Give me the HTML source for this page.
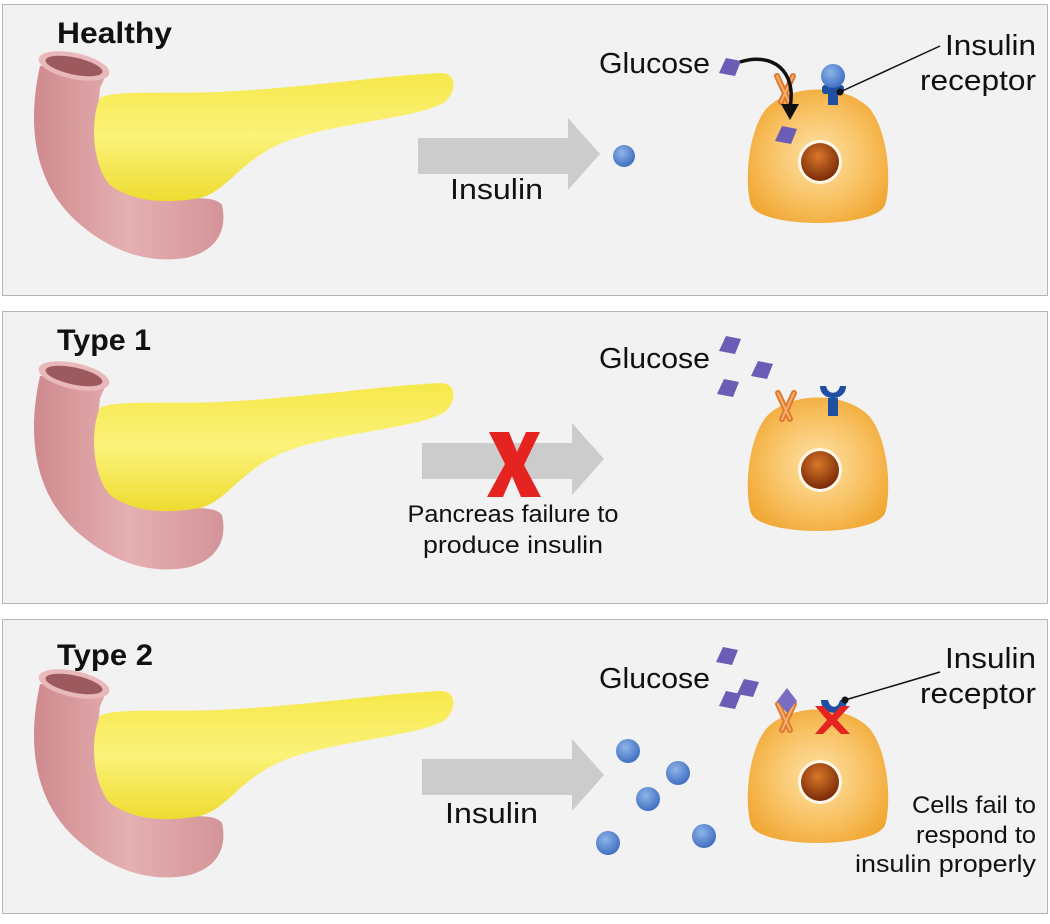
<!DOCTYPE html>
<html><head><meta charset="utf-8"><style>
html,body{margin:0;padding:0;background:#fff;}
svg{display:block;}
text{font-family:"Liberation Sans",sans-serif;fill:#111;}
</style></head><body>
<svg width="1050" height="924" viewBox="0 0 1050 924" xmlns="http://www.w3.org/2000/svg">
<defs>
<radialGradient id="cellg" cx="0.5" cy="0.5" r="0.6"><stop offset="0" stop-color="#fde3a8"/><stop offset="0.6" stop-color="#f8c060"/><stop offset="1" stop-color="#f0a530"/></radialGradient>
<radialGradient id="nuc" cx="0.45" cy="0.35" r="0.65"><stop offset="0" stop-color="#d8782a"/><stop offset="1" stop-color="#7a2a08"/></radialGradient>
<radialGradient id="dot" cx="0.4" cy="0.35" r="0.7"><stop offset="0" stop-color="#8fb4e8"/><stop offset="1" stop-color="#3a6bbf"/></radialGradient>
<linearGradient id="yel" x1="0" y1="0" x2="0" y2="1"><stop offset="0" stop-color="#f6e84a"/><stop offset="0.5" stop-color="#fbf27a"/><stop offset="1" stop-color="#eedc30"/></linearGradient>
<linearGradient id="pink" x1="0" y1="0" x2="1" y2="0"><stop offset="0" stop-color="#cf8a8e"/><stop offset="0.5" stop-color="#e5b0b2"/><stop offset="1" stop-color="#d39498"/></linearGradient>
<g id="panc">
 <path d="M40,66 C28,120 32,175 70,215 C100,245 140,265 185,258 C215,252 228,232 222,205 C215,196 195,198 170,200 C125,200 98,175 95,140 L100,88 C104,80 106,75 106,70 Z" fill="url(#pink)"/>
 <ellipse cx="74" cy="66" rx="36" ry="13" transform="rotate(12 74 66)" fill="#e9b8ba"/>
 <ellipse cx="74" cy="66" rx="29" ry="8.5" transform="rotate(12 74 66)" fill="#9c5a5e"/>
 <path d="M100,98 C115,90 160,94 220,92 C300,88 380,76 440,73 C458,73 456,92 445,102 C420,118 340,122 290,140 C240,158 230,190 200,198 C160,205 130,200 110,185 C92,165 90,120 100,98 Z" fill="url(#yel)"/>
</g>
<g id="cell">
 <path d="M18,22 C42,-4 98,-4 122,22 C142,48 143,100 137,118 C127,142 13,142 3,118 C-3,100 -2,48 18,22Z" fill="url(#cellg)"/>
 <circle cx="72" cy="75" r="22" fill="#fff" opacity="0.8"/>
 <circle cx="72" cy="75" r="19" fill="url(#nuc)"/>
</g>
<g id="chan">
 <path d="M-8,-12 L4,14 M8,-12 L-4,14" stroke="#e07a30" stroke-width="6" stroke-linecap="round"/>
 <path d="M-8,-12 L4,14 M8,-12 L-4,14" stroke="#f5b070" stroke-width="2" stroke-linecap="round"/>
</g>
<path id="dia" d="M-4,-9 L11,-6 L5,9 L-11,6 Z" fill="#6b5cb5"/>
<g id="arrow"><path d="M0,0 H150 V-20 L182,16 L150,52 V36 H0 Z" fill="#cccccc"/></g>
</defs>

<rect x="2.5" y="4.5" width="1045" height="291" fill="#f2f2f2" stroke="#b5b5b5"/>
<rect x="2.5" y="311.5" width="1045" height="292" fill="#f2f2f2" stroke="#b5b5b5"/>
<rect x="2.5" y="619.5" width="1045" height="294" fill="#f2f2f2" stroke="#b5b5b5"/>

<!-- Panel 1 -->
<text x="57" y="43" font-size="30" font-weight="bold" textLength="115" lengthAdjust="spacingAndGlyphs">Healthy</text>
<use href="#panc" x="0" y="0"/>
<use href="#arrow" x="418" y="138"/>
<text x="450" y="199" font-size="29" textLength="93" lengthAdjust="spacingAndGlyphs">Insulin</text>
<circle cx="624" cy="156" r="11" fill="url(#dot)"/>
<text x="599" y="73" font-size="29" textLength="111" lengthAdjust="spacingAndGlyphs">Glucose</text>
<use href="#dia" x="730" y="67"/>
<use href="#cell" x="748" y="87"/>
<use href="#chan" x="785" y="88"/>
<path d="M740,62 C772,52 797,70 790,108" stroke="#111" stroke-width="3.5" fill="none"/>
<path d="M781,104 L790,120 L799,104 Z" fill="#111"/>
<use href="#dia" x="786" y="135"/>
<rect x="828" y="85" width="10" height="20" fill="#1f4fa0"/>
<rect x="822" y="85" width="22" height="9" rx="3" fill="#1f4fa0"/>
<circle cx="833" cy="76" r="12" fill="url(#dot)"/>
<line x1="840" y1="92" x2="940" y2="46" stroke="#111" stroke-width="1.5"/>
<circle cx="840" cy="92" r="3.5" fill="#111"/>
<text x="945" y="55" font-size="29" textLength="91" lengthAdjust="spacingAndGlyphs">Insulin</text>
<text x="920" y="90" font-size="29" textLength="116" lengthAdjust="spacingAndGlyphs">receptor</text>

<!-- Panel 2 -->
<text x="57" y="350" font-size="30" font-weight="bold" textLength="94" lengthAdjust="spacingAndGlyphs">Type 1</text>
<use href="#panc" x="0" y="310"/>
<use href="#arrow" x="422" y="443"/>
<path d="M489,432 L509,432 L517,452 L526,432 L540,432 L524,465 L541,497 L521,497 L512,476 L503,497 L487,497 L505,464 Z" fill="#e52421"/>
<text x="513" y="522" font-size="24" text-anchor="middle" textLength="211" lengthAdjust="spacingAndGlyphs">Pancreas failure to</text>
<text x="513" y="553" font-size="24" text-anchor="middle" textLength="180" lengthAdjust="spacingAndGlyphs">produce insulin</text>
<text x="599" y="368" font-size="29" textLength="111" lengthAdjust="spacingAndGlyphs">Glucose</text>
<use href="#dia" x="730" y="345"/>
<use href="#dia" x="762" y="370"/>
<use href="#dia" x="728" y="388"/>
<use href="#cell" x="748" y="395"/>
<use href="#chan" x="786" y="405"/>
<rect x="828" y="398" width="10" height="18" fill="#1f4fa0"/>
<path d="M820,386 C820,402 846,402 846,386 L840,386 C838,395 828,395 826,386 Z" fill="#1f4fa0"/>

<!-- Panel 3 -->
<text x="57" y="665" font-size="30" font-weight="bold" textLength="96" lengthAdjust="spacingAndGlyphs">Type 2</text>
<use href="#panc" x="0" y="618"/>
<use href="#arrow" x="422" y="759"/>
<text x="445" y="823" font-size="29" textLength="93" lengthAdjust="spacingAndGlyphs">Insulin</text>
<circle cx="628" cy="751" r="12" fill="url(#dot)"/>
<circle cx="678" cy="773" r="12" fill="url(#dot)"/>
<circle cx="648" cy="799" r="12" fill="url(#dot)"/>
<circle cx="608" cy="843" r="12" fill="url(#dot)"/>
<circle cx="704" cy="836" r="12" fill="url(#dot)"/>
<text x="599" y="688" font-size="29" textLength="111" lengthAdjust="spacingAndGlyphs">Glucose</text>
<use href="#dia" x="727" y="656"/>
<use href="#dia" x="748" y="688"/>
<use href="#dia" x="730" y="700"/>
<use href="#cell" x="748" y="707"/>
<use href="#chan" x="786" y="716"/>
<path d="M787,688 L797,701 L787,713 L777,701 Z" fill="#7a6cc0"/>
<path d="M821,700 C821,717 847,717 847,700 L840,700 C838,709 830,709 828,700 Z" fill="#1f4fa0"/>
<path d="M815,706 L823,706 L832,715 L841,706 L850,706 L837,720 L850,734 L841,734 L832,725 L823,734 L815,734 L827,720 Z" fill="#e52421"/>
<line x1="845" y1="700" x2="940" y2="672" stroke="#111" stroke-width="1.5"/>
<circle cx="845" cy="700" r="3.5" fill="#111"/>
<text x="945" y="668" font-size="29" textLength="91" lengthAdjust="spacingAndGlyphs">Insulin</text>
<text x="920" y="703" font-size="29" textLength="116" lengthAdjust="spacingAndGlyphs">receptor</text>
<text x="1036" y="813" font-size="24" text-anchor="end" textLength="124" lengthAdjust="spacingAndGlyphs">Cells fail to</text>
<text x="1036" y="843" font-size="24" text-anchor="end" textLength="120" lengthAdjust="spacingAndGlyphs">respond to</text>
<text x="1036" y="872" font-size="24" text-anchor="end" textLength="181" lengthAdjust="spacingAndGlyphs">insulin properly</text>
</svg>
</body></html>
